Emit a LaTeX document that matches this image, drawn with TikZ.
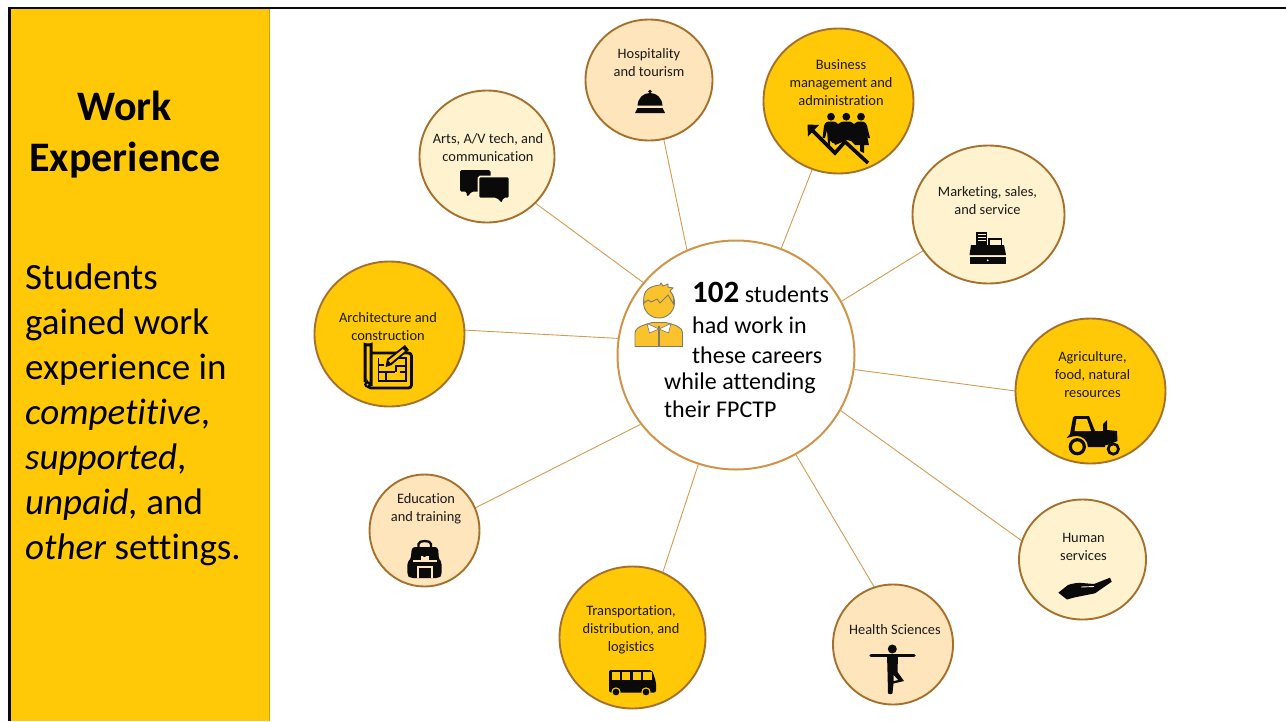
\documentclass[tikz,border=0pt]{standalone}
\usepackage{fontspec}
\setmainfont[Ligatures=NoCommon]{Carlito}
\usetikzlibrary{shapes.geometric,arrows.meta}
\pgfdeclarelayer{links}
\pgfsetlayers{links,main}
\definecolor{gold}{HTML}{FFC907}
\definecolor{peach}{HTML}{FEE5BB}
\definecolor{cream}{HTML}{FFF2CF}
\definecolor{rim}{HTML}{A5702C}
\definecolor{wire}{HTML}{D29B52}
\definecolor{hubrim}{HTML}{CE9447}
\definecolor{pers}{HTML}{FAC22C}
\definecolor{persl}{HTML}{7F7A6A}
\definecolor{ink}{HTML}{0A0A0A}
\tikzset{
  sat/.style={ellipse,draw=rim,line width=1.9pt,inner sep=0pt,outer sep=0pt},
  lbl/.style={align=center,font=\fontsize{14.4}{18}\selectfont,text=black!90,inner sep=0pt},
  link/.style={draw=wire,line width=0.9pt},
  big/.style={align=left,font=\fontsize{37}{45}\selectfont,inner sep=0pt,anchor=north west},
  hubt/.style={align=left,inner sep=0pt,anchor=north west},
  ic/.style={fill=ink,draw=none}
}
\newcommand{\satnode}[6]{\node[sat,fill=#2,minimum width=#5pt,minimum height=#6pt] (#1) at (#3,#4) {};}
\begin{document}
\begin{tikzpicture}[x=1pt,y=-1pt]
\useasboundingbox (0,0) rectangle (1286,721);
% panel
\fill[gold] (10,9) rectangle (269,721);
\draw[draw=gold!80!black,line width=1.6pt] (269.5,9) -- (269.5,721);
\draw[ink,line width=2.4pt] (9.4,721) -- (9.4,8.2) -- (1286,8.2);
\node[font=\fontsize{42}{51}\selectfont\bfseries,align=center,inner sep=0pt] (title) at (125,135) {Work\\Experience};
\node[big] (side) at (25,264) {Students\\gained work\\experience in\\\textit{competitive},\\\textit{supported},\\\textit{unpaid,} and\\\textit{other} settings.};
% nodes
\node[ellipse,draw=hubrim,fill=white,line width=2pt,inner sep=0pt,minimum width=237pt,minimum height=229pt] (hub) at (736,355) {};
\satnode{hosp}{peach}{649}{80}{127}{121}
\satnode{arts}{cream}{487}{156.5}{135}{132}
\satnode{biz}{gold}{838.5}{101}{150}{145}
\satnode{mkt}{cream}{988.5}{214.5}{152}{138}
\satnode{agri}{gold}{1090.5}{391}{150}{145}
\satnode{hum}{cream}{1082.5}{559.5}{127}{120}
\satnode{hlth}{peach}{893}{644.5}{120}{120}
\satnode{trans}{gold}{632.5}{637.5}{146}{142}
\satnode{edu}{peach}{424.5}{530.5}{110}{112}
\satnode{arch}{gold}{389.5}{334}{150}{145}
% connectors
\begin{pgfonlayer}{links}
\draw[link] (hub.115) -- (hosp.-76);
\draw[link] (hub.142.5) -- (arts.-44);
\draw[link] (hub.67.8) -- (biz.-111.7);
\draw[link] (hub.27) -- (mkt.-151.3);
\draw[link] (hub.-7.7) -- (agri.180);
\draw[link] (hub.-28.7) -- (hum.163.8);
\draw[link] (hub.-59.7) -- (hlth.108.8);
\draw[link] (hub.-109.2) -- (trans.65.1);
\draw[link] (hub.-144.2) -- (edu.24.5);
\draw[link] (hub.172.8) -- (arch.3);
\end{pgfonlayer}
% labels
\node[lbl] (t1) at (649,62.7) {Hospitality\\and tourism};
\node[lbl] (t2) at (488,147.5) {Arts, A/V tech, and\\communication};
\node[lbl] (t3) at (841,82.7) {Business\\management and\\administration};
\node[lbl] (t4) at (987.5,200.5) {Marketing, sales,\\and service};
\node[lbl] (t5) at (1092.5,375) {Agriculture,\\food, natural\\resources};
\node[lbl] (t6) at (1083.5,546.5) {Human\\services};
\node[lbl] (t7) at (895,629.5) {Health Sciences};
\node[lbl] (t8) at (631,630) {Transportation,\\distribution, and\\logistics};
\node[lbl] (t9) at (426,509) {Education\\and training};
\node[lbl] (t10) at (388,327) {Architecture and\\construction};
% hub text
\node[hubt,font=\fontsize{24}{30.5}\selectfont] (h1) at (692,282) {{\fontsize{31}{30.5}\selectfont\bfseries 102} students\\had work in\\these careers};
\node[hubt,font=\fontsize{24}{28.5}\selectfont] (h2) at (664,372.5) {while attending\\their FPCTP};
% person icon
\fill[pers,draw=persl,line width=0.9pt] (635,346.5) -- (635,333) .. controls (636,326) and (645,325) .. (652,322.5) -- (666,322.5) .. controls (674,325) and (682,326) .. (682.5,333) -- (682.5,346.5) -- cycle;
\draw[persl,line width=1.4pt] (659,326) -- (659,346.5);
\fill[white,draw=persl,line width=0.6pt] (659,329) -- (647,323.5) -- (649.5,333) -- cycle;
\fill[white,draw=persl,line width=0.6pt] (659,329) -- (671,323.5) -- (668.5,333) -- cycle;
\fill[pers,draw=persl,line width=0.9pt] (659,302.5) circle (15.5);
\fill[pers,draw=persl,line width=0.9pt] (644,303) .. controls (642,290) and (650,286) .. (660,285) -- (661,283) -- (663,286) -- (668,284) -- (668,287) -- (673,288) -- (670,291) .. controls (674,295) and (674,300) .. (673.5,304) -- (668,295) -- (660,303) -- (657,299) -- (651,302) -- (648,300) -- cycle;
% bell
\fill[ic] (650,91.5) circle (1.9);
\fill[ic] (637.5,105.5) .. controls (638,98) and (643,93) .. (650,93) .. controls (657,93) and (662,98) .. (662.5,105.5) -- cycle;
\fill[ic] (637.5,108) -- (662.5,108) -- (665,113) -- (635,113) -- cycle;
% chat
\fill[ic,rounded corners=1.5pt] (460,170) -- (490.5,170) -- (490.5,191.5) -- (472,191.5) -- (467,197) -- (466.5,191.5) -- (460,191.5) -- cycle;
\draw[cream,line width=1.6pt,fill=ink,rounded corners=1.5pt] (478.5,176.5) -- (509.5,176.5) -- (509.5,198.5) -- (504,198.5) -- (502,204) -- (496,198.5) -- (478.5,198.5) -- cycle;
% business
\foreach \hx in {831,846.3,861} \fill[ic] (\hx,116.7) circle (3.9);
\fill[ic] (822.5,138) -- (824,126) .. controls (825,122) and (827,121.5) .. (831,121.5) .. controls (835,121.5) and (837,122) .. (838,124) .. controls (840,121.5) and (843,121.5) .. (846.3,121.5) .. controls (850,121.5) and (852,121.5) .. (854,124) .. controls (856,121.5) and (858,121.5) .. (861,121.5) .. controls (866,121.5) and (867,124) .. (868,130) -- (870,138) -- (868,138) -- (866,131) -- (869,145) -- (864,145) -- (864,153) -- (860,151) -- (860,145) -- (855,145) -- (851,141) -- (847,140) -- (840,143) -- (835,145) -- (834,143) -- (832.5,143) -- (830,140) -- (830,146) -- (828,143) -- (827,130) -- (825,138) -- cycle;
\draw[ink,line width=3.6pt] (868,163) -- (845,141.7) -- (835,153) -- (812,130);
\fill[ic] (807.5,124.5) -- (819,125) -- (808,136.5) -- cycle;
% register
\fill[ic] (975.5,231.5) -- (987,231.5) -- (987,245) -- (975.5,245) -- cycle;
\fill[ic] (988,237.5) rectangle (1002,247);
\fill[cream] (989.5,240) rectangle (1000.5,245);
\fill[cream] (977.5,234) rectangle (985.5,235);
\fill[cream] (977.5,237) rectangle (985.5,238);
\fill[cream] (977.5,240) rectangle (985.5,241);
\fill[ic] (971,245) -- (1004,245) -- (1006,255) -- (969.5,255) -- cycle;
\fill[ic] (969.5,256.5) rectangle (1006,264.3);
\fill[cream] (987.7,260.3) circle (1);
% tractor
\fill[ic] (1066.7,438) -- (1070,434) -- (1073,417.5) .. controls (1074,416) and (1075,416) .. (1077,416) -- (1089,416) -- (1095,431) -- (1103,431) -- (1103,424) -- (1107,420) -- (1107,430) -- (1117,431) -- (1117.5,441) -- (1107,445) -- (1105,445) -- (1105,447) -- (1088,447) .. controls (1088,440) and (1082,436) .. (1077,436) .. controls (1072,436) and (1068,438) .. (1066.7,438) -- cycle;
\fill[gold] (1076.5,419) -- (1087,419) -- (1091,431) -- (1074.5,431) -- cycle;
\draw[ink,line width=3.2pt,fill=gold] (1077.3,446.7) circle (7);
\draw[ink,line width=2.7pt,fill=gold] (1113.3,449) circle (5.2);
% hand
\fill[ic] (1058.3,592.7) -- (1068,585) .. controls (1072,583.5) and (1078,582.5) .. (1082,583) -- (1094,584) -- (1110,577.7) -- (1111.7,581.7) -- (1095,593.3) -- (1075,597.3) -- (1067,599.5) -- cycle;
\draw[cream,line width=0.9pt] (1081,587) -- (1094,586.5);
% yoga
\fill[ic] (892.3,649) circle (4.5);
\draw[ink,line width=3.5pt,line cap=round] (871,655.5) -- (914,655.5);
\fill[ic] (887,655) -- (898,655) -- (897.5,672) -- (904,681) -- (893.5,683.5) -- (892.5,693) .. controls (892.5,694.5) and (888,694.5) .. (888,693) -- (887.5,672) -- cycle;
\fill[peach] (893.5,675) -- (898,680) -- (893.5,681) -- cycle;
% bus
\fill[ic,rounded corners=2pt] (609,670) -- (652,670) -- (656,682) -- (656,692.5) -- (609,692.5) -- cycle;
\fill[gold] (611.7,672) rectangle (619.5,679.5);
\fill[gold] (622,672) rectangle (630,679.5);
\fill[gold] (632.7,672) rectangle (641,679.5);
\fill[gold] (643.3,672) rectangle (651.5,679.5);
\draw[gold,line width=1.1pt,fill=ink] (616,692) circle (4.1);
\draw[gold,line width=1.1pt,fill=ink] (646,692) circle (4.1);
% backpack
\draw[ink,line width=2.3pt] (418.5,549) -- (418.5,544) .. controls (418.5,540) and (431,540) .. (431,544) -- (431,549);
\fill[ic,rounded corners=3pt] (412,547) -- (438,547) -- (439,560) -- (441.7,562) -- (441.7,575) -- (439,578) -- (410,578) -- (407.3,575) -- (407.3,562) -- (410.5,560) -- cycle;
\fill[peach] (412.5,559.5) rectangle (437,562);
\fill[peach] (417,566) rectangle (433,578);
\fill[ic] (419,568) rectangle (431,578);
\fill[peach] (421,556) rectangle (429,559.5);
\fill[ic] (424.5,555) circle (2);
% blueprint
\draw[ink,line width=2.8pt,rounded corners=3pt] (368,387) -- (368,388) -- (411.5,388) -- (411.5,353) -- (372,353);
\draw[ink,line width=3pt,rounded corners=3.5pt] (365,382) -- (365,348) .. controls (365,345) and (371,345) .. (371,348) -- (371,386);
\fill[ic] (367.5,384.5) circle (3.4);
\fill[gold] (367.5,384.5) circle (1);
\draw[ink,line width=1.9pt] (378.5,358) -- (378.5,381) -- (406,381) -- (406,358) -- (397,358);
\draw[ink,line width=1.9pt] (378.5,365) -- (384,365) (378.5,372) -- (395,372) (386,372) -- (386,381) (396,372) -- (396,366) -- (406,366) (400,372) -- (406,372);
\fill[ink] (385.5,367) -- (387,359) -- (405,345) -- (409,350) -- (391.5,365) -- cycle;
\fill[gold] (388.5,360.5) -- (403,349) -- (405,351) -- (390.5,363) -- cycle;
\end{tikzpicture}
\end{document}
